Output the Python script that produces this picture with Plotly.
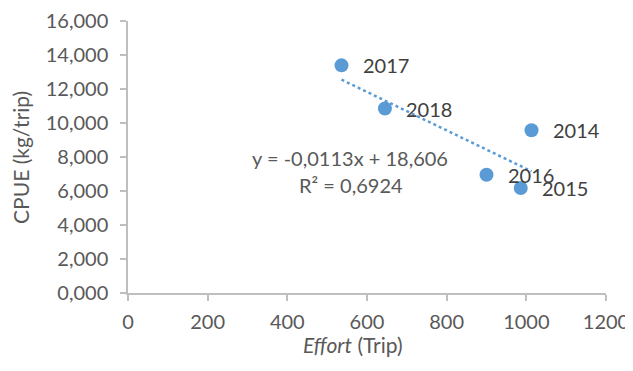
import plotly.graph_objects as go

# Data
years = ["2014", "2015", "2016", "2017", "2018"]
effort = [1013, 986, 900, 536, 645]
cpue = [9.57, 6.18, 6.96, 13.39, 10.85]

slope = -0.0113
intercept = 18.606
eq_text = "y = -0,0113x + 18,606"
r2_text = "R² = 0,6924"

x_ticks = [0, 200, 400, 600, 800, 1000, 1200]
y_ticks = [0, 2, 4, 6, 8, 10, 12, 14, 16]

FONT = "Lato"
BLUE = "#5B9BD5"
GRAY = "#595959"

# page body margin offset (default 8px)
OFF = 8
W, H = 633 - OFF, 371 - OFF
# desired plot area in window pixels
PX0, PX1, PY0, PY1 = 128.3, 606.0, 20.7, 292.7
L, T = PX0 - OFF, PY0 - OFF
R, B = W - (PX1 - OFF), H - (PY1 - OFF)
PW, PH = PX1 - PX0, PY1 - PY0

fig = go.Figure()

x0, x1 = min(effort), max(effort)
fig.add_trace(go.Scatter(
    x=[x0, x1], y=[slope * x0 + intercept, slope * x1 + intercept],
    mode="lines", line=dict(color=BLUE, width=2.5, dash="dot"),
    hoverinfo="skip", showlegend=False))

fig.add_trace(go.Scatter(
    x=effort, y=cpue, mode="markers",
    marker=dict(color=BLUE, size=14),
    showlegend=False))

for yr, xv, yv in zip(years, effort, cpue):
    fig.add_annotation(x=xv, y=yv, text=yr, showarrow=False,
                       xanchor="left", yanchor="middle", xshift=19,
                       font=dict(family=FONT, size=20, color="#404040"))

def px_to_paper(px, py):
    return (px - PX0) / PW, (PY1 - py) / PH

ex, ey = px_to_paper(350, 158)
fig.add_annotation(xref="paper", yref="paper", x=ex, y=ey, text=eq_text,
                   showarrow=False, xanchor="center", yanchor="middle",
                   font=dict(family=FONT, size=20, color=GRAY))
rx, ry = px_to_paper(351, 185)
fig.add_annotation(xref="paper", yref="paper", x=rx, y=ry, text=r2_text,
                   showarrow=False, xanchor="center", yanchor="middle",
                   font=dict(family=FONT, size=20, color=GRAY))

# axis titles (placed like Excel)
tx, ty = px_to_paper(352.7, 344)
fig.add_annotation(xref="paper", yref="paper", x=tx, y=ty,
                   xanchor="center", yanchor="middle", showarrow=False,
                   text="<i>Effort</i> (Trip)",
                   font=dict(family=FONT, size=21, color=GRAY))
yx, yy = px_to_paper(21, 157)
fig.add_annotation(xref="paper", yref="paper", x=yx, y=yy, textangle=-90,
                   xanchor="center", yanchor="middle", showarrow=False,
                   text="CPUE (kg/trip)",
                   font=dict(family=FONT, size=21, color=GRAY))

axis_common = dict(showgrid=False, zeroline=False, showline=True,
                   linecolor="#BFBFBF", linewidth=1.5, ticks="outside",
                   ticklen=6, tickcolor="#BFBFBF", tickwidth=1.5,
                   automargin=False,
                   tickfont=dict(family=FONT, size=20, color=GRAY))

fig.update_layout(
    width=W, height=H,
    margin=dict(l=L, r=R, t=T, b=B, pad=0),
    paper_bgcolor="white", plot_bgcolor="white",
    separators=", ",
    font=dict(family=FONT, color=GRAY, size=20),
    xaxis=dict(range=[0, 1200], tickvals=x_ticks, tickformat="d",
               ticklabelstandoff=4, **axis_common),
    yaxis=dict(range=[0, 16], tickvals=y_ticks, tickformat=".3f",
               ticklabelstandoff=8, **axis_common),
)

fig.write_html("out.html")
